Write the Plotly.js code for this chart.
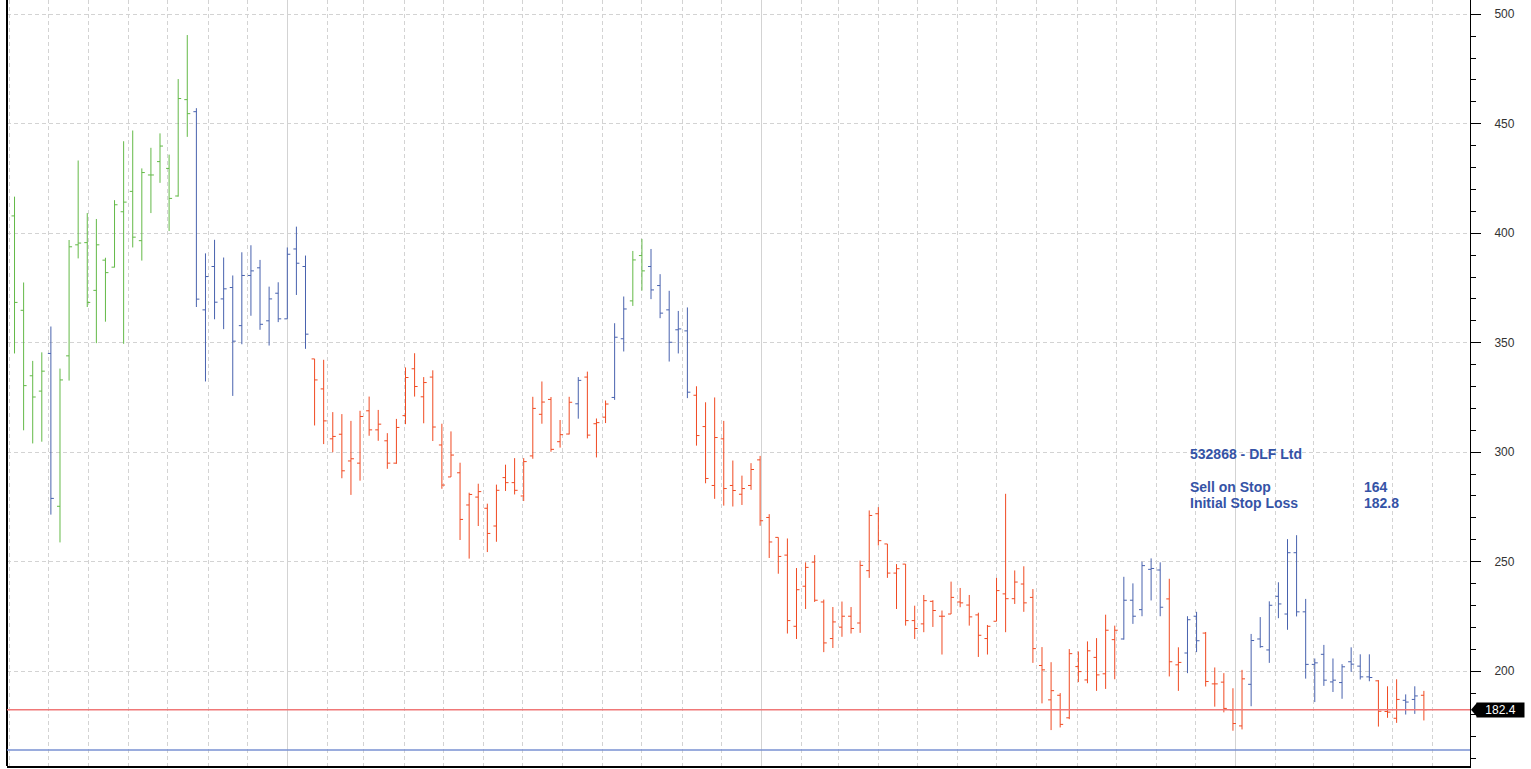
<!DOCTYPE html>
<html>
<head>
<meta charset="utf-8">
<script src="https://cdn.plot.ly/plotly-3.0.1.min.js"></script>
<style>html,body{margin:0;padding:0;background:#fff;}#chart{width:1531px;height:769px;}</style>
</head>
<body>
<div id="chart"></div>
<script>
// Weekly bars of 532868 - DLF Ltd, first week ending 2009-06-05
const firstWeek = '2009-06-05';
const opens = [407.9,364.8,334.9,327.9,345.1,275.3,344,394.7,395.7,373.9,387.7,384.5,409.8,419.1,396.6,426.6,432.7,429.6,417,461,
455.5,365,384.8,370,375.2,357.8,380.7,384.2,360,372.6,360.9,392.8,384.8,342.6,328.9,306.1,308.2,296,295,318.9,
310.2,305.2,295,316.7,338.1,325.3,334.3,303.3,288.7,290.6,275.9,279.5,274.4,266.3,288.4,286.1,280,298.3,317.3,324.1,
304.8,308.3,322.1,334.3,313,316,325,351.8,369.1,389.8,384.8,376.1,365,355.9,355.4,326,311.7,284.8,306.1,284.8,
280.8,284.8,296.5,270.2,261.1,253,220.5,238.8,249.8,231.6,214.9,220.1,225.1,222,245.9,271.9,258.1,244.8,248.9,223.1,
221.6,231.9,225.1,226.1,231.6,230.2,225.7,214.9,222.8,235.3,233.1,239.8,233.7,202.6,186.9,189,178.7,202.1,196,206.3,
198.8,214.4,214.7,232.4,228.1,246.5,246.2,233,202.9,208.3,225.1,217.4,194.2,195,182.3,175,194,214.7,209.7,234.2,
226.1,254.1,227.1,203.1,207.7,195.1,194.8,204.3,202.3,197.4,195.6,181.6,178.5,186.7,187.1,189];
const highs = [416.7,377.5,341.7,345.6,357.4,338.2,396.9,433.2,409.2,406.5,388.8,415.1,442,446.9,429.6,439,445.6,435.9,470.4,490.5,
457.1,390.8,397,388.9,380.7,391.3,394.5,387.8,375.6,377.6,393.5,403,389.8,342.6,342.2,318.3,317.4,314.3,318.9,325.4,
319.3,308.7,315.2,338.7,345.2,334.3,337.4,313,309.5,295.2,281.5,285.6,276.5,285.2,294.3,297.3,297.3,325.3,332.3,325.2,
314.7,325.3,334.3,336.8,315.4,323.6,358.9,371.1,391.9,397.4,392.8,381.3,373.7,364.5,366.1,330.1,322.8,325,314.3,296.2,
289.3,295,298.3,271.7,261.1,260.6,247.1,249.7,253,232.7,229.3,231.8,229.3,250.5,273.4,274.9,258.1,248.9,248.9,229.9,
234.8,232.4,227.7,240.9,238,234.8,226.7,221.1,242.6,281,246,247.9,237.5,211,204.1,190,210.1,209,213.6,215.1,
225.8,220.8,243.1,240.1,250,251.5,249.7,242.2,210.9,225.1,227.1,217.9,201.7,199.1,192.2,200.6,217,224.7,231.9,240.6,
260.3,262.1,233,205.8,212,205.8,203.2,210.9,207.7,207.7,195.9,193.1,196.3,189.4,193.1,191];
const lows = [345.1,310,304,304.8,271.5,258.8,332.7,388.5,366.3,349.8,359.6,384.4,349.5,393.5,387.5,409.2,423,401,416.7,444,
366.3,332.3,360.7,356.2,325.7,349.3,362.3,355.9,348.7,359.4,360.9,371.8,347.2,312.2,303.7,300,288.1,280.5,287,307.5,
305.2,292.4,294.7,312.8,325.4,313.2,305.1,283.3,288.7,259.9,251.4,266.3,254.4,259.1,282.3,280.7,277.7,297,313,300.2,
302.1,308.1,315.3,306.3,297.6,313.3,323.9,346,366.8,373.8,369.9,361.2,341.4,345.1,324.7,303,285.8,278.7,275.6,275.2,
275.9,282.8,266.4,251.7,244.5,217.2,214.7,228.4,231.6,208.7,210.6,215.7,217.2,217.5,242.6,257.4,242.6,228.4,220.8,214.7,
217.8,220.2,207.6,226.1,229.2,220.8,206.5,207.6,222.8,217.8,230.7,227.1,203.8,185.3,173.1,174.3,178.1,195,194.5,191,
191.9,196.3,214.4,221.6,225.1,232.3,225.1,197.6,191,199.1,208.7,193,183.8,181.2,172.8,173.4,184,210.7,203.8,224.2,
218.9,225,196.6,185.9,193.3,190.5,187.4,199.7,196.2,195.4,174.7,178.7,176.4,180.2,180.5,177.5];
const closes = [368.4,330.4,325.2,337,278.9,333,393.8,395.5,368.4,394.7,382,413,414.2,398.2,427.7,426.6,439.8,415.9,461.5,454.6,
369.9,380.2,368.5,374.6,350.7,380.7,382.8,358.4,370,360.9,390.4,386.3,353.9,333,314.3,307.2,291.5,297,316.3,310.2,
312.8,295,311.3,334.1,330,331.8,311.5,285,298.7,269.3,280.7,282,262.9,282.6,286.1,282.6,295.7,320,322.9,301.3,
308,322.8,332.8,307.8,313.5,322,352.5,365.4,387.8,382.8,374.1,363.5,350.2,356.3,327.4,307.6,288,306.7,283.4,282.5,
283.4,292.1,268.7,259,252.4,223.1,237.2,247.4,232.4,212.9,222.5,225.1,219.5,248.3,271.1,259.6,244.8,246.8,223.1,219.5,
232.2,227.7,225.1,233.7,231.2,224.8,216.4,220.5,236.8,233.1,240.7,231.2,210.3,200.6,191.1,175.7,208,199.8,209.3,198.3,
218.7,218.7,232.4,225.1,248.2,246.9,229.2,204.3,204,223.5,213.9,195.3,194.2,183,176.1,196.5,214,211.2,230.1,230.7,
254.1,227.1,203.1,203.8,195.9,195.9,202,203.2,197.4,197.1,181.7,181.3,187.1,185.9,188.7,182.4];
// trend state of each bar: g = up (green), b = neutral (blue), r = down (red)
const trend = ('ggggbggggggggggggggg' + 'bbbbbbbbbbbbbrrrrrrr' + 'rrrrrrrrrrrrrrrrrrrr' + 'rrbrrrbbggbbbbbrrrrr' +
 'rrrrrrrrrrrrrrrrrrrr' + 'rrrrrrrrrrrrrrrrrrrr' + 'rrbbbbbrrbbrrrrrbbbb' + 'bbbbbbbbbbrrrbbr').split('');

const stockLabel = '532868 - DLF Ltd';
const sellOnStop = 164;
const initialStopLoss = 182.8;
const yTicks = [200, 250, 300, 350, 400, 450, 500];

const colors = {g: '#63b947', b: '#4862ae', r: '#f04a22'};

// weekly dates
const dates = [];
{
  const d0 = new Date(firstWeek + 'T00:00:00Z');
  for (let i = 0; i < opens.length; i++) {
    const d = new Date(d0.getTime() + i * 7 * 86400000);
    dates.push(d.toISOString().slice(0, 10));
  }
}

const traces = ['g', 'b', 'r'].map(k => {
  const idx = trend.map((t, i) => t === k ? i : -1).filter(i => i >= 0);
  return {
    type: 'ohlc',
    x: idx.map(i => dates[i]),
    open: idx.map(i => opens[i]),
    high: idx.map(i => highs[i]),
    low: idx.map(i => lows[i]),
    close: idx.map(i => closes[i]),
    tickwidth: 0.33,
    increasing: {line: {color: colors[k], width: 1}},
    decreasing: {line: {color: colors[k], width: 1}},
    hoverinfo: 'skip',
    showlegend: false
  };
});
// empty helper trace so the label-only right axis is drawn
traces.push({type: 'scatter', mode: 'markers', x: [], y: [], yaxis: 'y2', hoverinfo: 'skip', showlegend: false});

const lastClose = closes[closes.length - 1];
const yRange = [156.7, 506.5];
const plotW = 1531 - 7 - 61, plotH = 769 - 0 - 3;
const yP = (lastClose - yRange[0]) / (yRange[1] - yRange[0]);
const gridCol = '#d3d3d3';
const txtBlue = '#3553a6';
const txtFont = {family: 'Liberation Sans, Arial, sans-serif', size: 14, color: txtBlue};
const tickFont = {family: 'Liberation Sans, Arial, sans-serif', size: 12, color: '#333'};

const layout = {
  width: 1531, height: 769,
  margin: {l: 7, r: 61, t: 0, b: 3, pad: 0},
  paper_bgcolor: '#fff', plot_bgcolor: '#fff',
  showlegend: false, hovermode: false, dragmode: false,
  xaxis: {
    type: 'date',
    range: ['2009-05-30 05:00', '2012-06-29 12:00'],
    rangeslider: {visible: false},
    showticklabels: false, ticks: '',
    dtick: 'M12', tick0: '2010-01-01',
    showgrid: true, gridcolor: gridCol, gridwidth: 1,
    minor: {dtick: 'M1', tick0: '2010-01-01', showgrid: true, gridcolor: gridCol, griddash: '4px,3px', ticks: ''},
    showline: true, linecolor: '#000', linewidth: 2, mirror: false,
    zeroline: false, fixedrange: true
  },
  yaxis: {
    side: 'right',
    range: yRange,
    tickvals: yTicks, showticklabels: false,
    showgrid: true, gridcolor: gridCol, griddash: '4px,3px',
    ticks: 'outside', ticklen: 10, tickwidth: 1, tickcolor: '#000',
    minor: {dtick: 10, tick0: 0, ticks: 'outside', ticklen: 5, tickcolor: '#000', showgrid: false},
    showline: true, linecolor: '#000', linewidth: 1, mirror: false,
    zeroline: false, fixedrange: true
  },
  yaxis2: {
    overlaying: 'y', side: 'right', anchor: 'x',
    range: yRange,
    tickvals: yTicks, ticktext: yTicks.map(String),
    ticks: 'outside', ticklen: 21, tickcolor: 'rgba(0,0,0,0)',
    showgrid: false, showline: false, zeroline: false,
    tickfont: tickFont, fixedrange: true
  },
  shapes: [
    {type: 'line', xref: 'paper', x0: 0, x1: 0, yref: 'paper', y0: 0, y1: 1, line: {color: '#000', width: 2}},
    {type: 'line', xref: 'paper', x0: 0, x1: 1, yref: 'y', y0: lastClose, y1: lastClose, line: {color: '#f07878', width: 1.5}},
    {type: 'line', xref: 'paper', x0: 0, x1: 1, yref: 'y', y0: sellOnStop, y1: sellOnStop, line: {color: '#7891d2', width: 1.5}},
    {type: 'path', xref: 'paper', yref: 'paper',
     path: 'M ' + (1 + 1 / plotW) + ' ' + yP + ' L ' + (1 + 7 / plotW) + ' ' + (yP + 7 / plotH) +
           ' L ' + (1 + 7 / plotW) + ' ' + (yP - 7 / plotH) + ' Z',
     fillcolor: '#000', line: {width: 0}}
  ],
  annotations: [
    {xref: 'paper', yref: 'paper', x: 0.8072, y: 0.4073, xanchor: 'left', yanchor: 'middle', showarrow: false,
     text: '<b>' + stockLabel + '</b>', font: txtFont},
    {xref: 'paper', yref: 'paper', x: 0.8072, y: 0.3642, xanchor: 'left', yanchor: 'middle', showarrow: false,
     text: '<b>Sell on Stop</b>', font: txtFont},
    {xref: 'paper', yref: 'paper', x: 0.9262, y: 0.3642, xanchor: 'left', yanchor: 'middle', showarrow: false,
     text: '<b>' + sellOnStop + '</b>', font: txtFont},
    {xref: 'paper', yref: 'paper', x: 0.8072, y: 0.3427, xanchor: 'left', yanchor: 'middle', showarrow: false,
     text: '<b>Initial Stop Loss</b>', font: txtFont},
    {xref: 'paper', yref: 'paper', x: 0.9262, y: 0.3427, xanchor: 'left', yanchor: 'middle', showarrow: false,
     text: '<b>' + initialStopLoss.toFixed(1) + '</b>', font: txtFont},
    {xref: 'paper', yref: 'y', x: 1, y: lastClose, xanchor: 'left', yanchor: 'middle', xshift: 6, showarrow: false,
     text: lastClose.toFixed(1), bgcolor: '#000', borderpad: 0, width: 47, height: 14, align: 'center',
     font: {family: 'Liberation Sans, Arial, sans-serif', size: 12, color: '#fff'}}
  ]
};

Plotly.newPlot('chart', traces, layout, {displayModeBar: false, staticPlot: true});
</script>
</body>
</html>
